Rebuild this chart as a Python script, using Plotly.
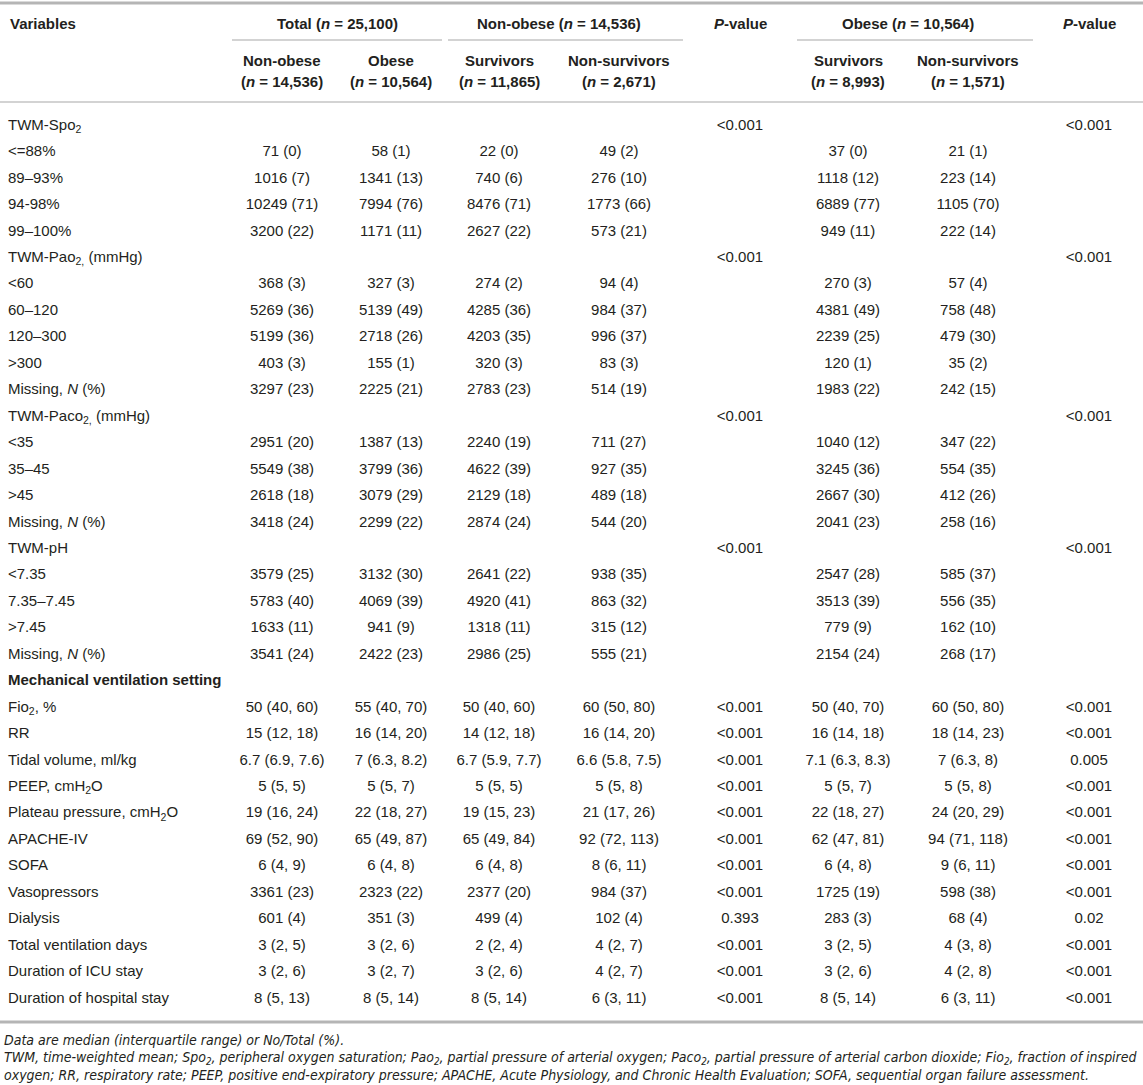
import plotly.graph_objects as go

# row labels (first column)
variables = [
    "TWM-Spo<sub>2</sub>", "&lt;=88%", "89–93%", "94-98%", "99–100%",
    "TWM-Pao<sub>2,</sub> (mmHg)", "&lt;60", "60–120", "120–300", "&gt;300",
    "Missing, <i>N</i> (%)",
    "TWM-Paco<sub>2,</sub> (mmHg)", "&lt;35", "35–45", "&gt;45", "Missing, <i>N</i> (%)",
    "TWM-pH", "&lt;7.35", "7.35–7.45", "&gt;7.45", "Missing, <i>N</i> (%)",
    "<b>Mechanical ventilation setting</b>",
    "Fio<sub>2</sub>, %", "RR", "Tidal volume, ml/kg", "PEEP, cmH<sub>2</sub>O",
    "Plateau pressure, cmH<sub>2</sub>O", "APACHE-IV", "SOFA", "Vasopressors",
    "Dialysis", "Total ventilation days", "Duration of ICU stay",
    "Duration of hospital stay",
]

total_nonobese = [
    "", "71 (0)", "1016 (7)", "10249 (71)", "3200 (22)",
    "", "368 (3)", "5269 (36)", "5199 (36)", "403 (3)", "3297 (23)",
    "", "2951 (20)", "5549 (38)", "2618 (18)", "3418 (24)",
    "", "3579 (25)", "5783 (40)", "1633 (11)", "3541 (24)",
    "", "50 (40, 60)", "15 (12, 18)", "6.7 (6.9, 7.6)", "5 (5, 5)", "19 (16, 24)",
    "69 (52, 90)", "6 (4, 9)", "3361 (23)", "601 (4)", "3 (2, 5)", "3 (2, 6)",
    "8 (5, 13)",
]
total_obese = [
    "", "58 (1)", "1341 (13)", "7994 (76)", "1171 (11)",
    "", "327 (3)", "5139 (49)", "2718 (26)", "155 (1)", "2225 (21)",
    "", "1387 (13)", "3799 (36)", "3079 (29)", "2299 (22)",
    "", "3132 (30)", "4069 (39)", "941 (9)", "2422 (23)",
    "", "55 (40, 70)", "16 (14, 20)", "7 (6.3, 8.2)", "5 (5, 7)", "22 (18, 27)",
    "65 (49, 87)", "6 (4, 8)", "2323 (22)", "351 (3)", "3 (2, 6)", "3 (2, 7)",
    "8 (5, 14)",
]
nonobese_surv = [
    "", "22 (0)", "740 (6)", "8476 (71)", "2627 (22)",
    "", "274 (2)", "4285 (36)", "4203 (35)", "320 (3)", "2783 (23)",
    "", "2240 (19)", "4622 (39)", "2129 (18)", "2874 (24)",
    "", "2641 (22)", "4920 (41)", "1318 (11)", "2986 (25)",
    "", "50 (40, 60)", "14 (12, 18)", "6.7 (5.9, 7.7)", "5 (5, 5)", "19 (15, 23)",
    "65 (49, 84)", "6 (4, 8)", "2377 (20)", "499 (4)", "2 (2, 4)", "3 (2, 6)",
    "8 (5, 14)",
]
nonobese_nonsurv = [
    "", "49 (2)", "276 (10)", "1773 (66)", "573 (21)",
    "", "94 (4)", "984 (37)", "996 (37)", "83 (3)", "514 (19)",
    "", "711 (27)", "927 (35)", "489 (18)", "544 (20)",
    "", "938 (35)", "863 (32)", "315 (12)", "555 (21)",
    "", "60 (50, 80)", "16 (14, 20)", "6.6 (5.8, 7.5)", "5 (5, 8)", "21 (17, 26)",
    "92 (72, 113)", "8 (6, 11)", "984 (37)", "102 (4)", "4 (2, 7)", "4 (2, 7)",
    "6 (3, 11)",
]
p_nonobese = [
    "&lt;0.001", "", "", "", "",
    "&lt;0.001", "", "", "", "", "",
    "&lt;0.001", "", "", "", "",
    "&lt;0.001", "", "", "", "",
    "", "&lt;0.001", "&lt;0.001", "&lt;0.001", "&lt;0.001", "&lt;0.001",
    "&lt;0.001", "&lt;0.001", "&lt;0.001", "0.393", "&lt;0.001", "&lt;0.001",
    "&lt;0.001",
]
obese_surv = [
    "", "37 (0)", "1118 (12)", "6889 (77)", "949 (11)",
    "", "270 (3)", "4381 (49)", "2239 (25)", "120 (1)", "1983 (22)",
    "", "1040 (12)", "3245 (36)", "2667 (30)", "2041 (23)",
    "", "2547 (28)", "3513 (39)", "779 (9)", "2154 (24)",
    "", "50 (40, 70)", "16 (14, 18)", "7.1 (6.3, 8.3)", "5 (5, 7)", "22 (18, 27)",
    "62 (47, 81)", "6 (4, 8)", "1725 (19)", "283 (3)", "3 (2, 5)", "3 (2, 6)",
    "8 (5, 14)",
]
obese_nonsurv = [
    "", "21 (1)", "223 (14)", "1105 (70)", "222 (14)",
    "", "57 (4)", "758 (48)", "479 (30)", "35 (2)", "242 (15)",
    "", "347 (22)", "554 (35)", "412 (26)", "258 (16)",
    "", "585 (37)", "556 (35)", "162 (10)", "268 (17)",
    "", "60 (50, 80)", "18 (14, 23)", "7 (6.3, 8)", "5 (5, 8)", "24 (20, 29)",
    "94 (71, 118)", "9 (6, 11)", "598 (38)", "68 (4)", "4 (3, 8)", "4 (2, 8)",
    "6 (3, 11)",
]
p_obese = [
    "&lt;0.001", "", "", "", "",
    "&lt;0.001", "", "", "", "", "",
    "&lt;0.001", "", "", "", "",
    "&lt;0.001", "", "", "", "",
    "", "&lt;0.001", "&lt;0.001", "0.005", "&lt;0.001", "&lt;0.001",
    "&lt;0.001", "&lt;0.001", "&lt;0.001", "0.02", "&lt;0.001", "&lt;0.001",
    "&lt;0.001",
]

group_titles = ["Total (<i>n</i> = 25,100)", "Non-obese (<i>n</i> = 14,536)",
                "Obese (<i>n</i> = 10,564)"]
sub_titles = ["Non-obese", "Obese", "Survivors", "Non-survivors",
              "Survivors", "Non-survivors"]
sub_counts = ["14,536", "10,564", "11,865", "2,671", "8,993", "1,571"]

footnotes = [
    "Data are median (interquartile range) or No/Total (%).",
    "TWM, time-weighted mean; Spo<sub>2</sub>, peripheral oxygen saturation; "
    "Pao<sub>2</sub>, partial pressure of arterial oxygen; Paco<sub>2</sub>, partial "
    "pressure of arterial carbon dioxide; Fio<sub>2</sub>, fraction of inspired",
    "oxygen; RR, respiratory rate; PEEP, positive end-expiratory pressure; APACHE, "
    "Acute Physiology, and Chronic Health Evaluation; SOFA, sequential organ "
    "failure assessment.",
]

W, H = 1143, 1085
FONT = "Liberation Sans, Arial, sans-serif"
INK = "#231f20"
Y0, DY = 126, 26.45

rows = [Y0 + i * DY for i in range(len(variables))]
columns = [
    (282, total_nonobese), (391, total_obese), (499, nonobese_surv),
    (619, nonobese_nonsurv), (740, p_nonobese), (848, obese_surv),
    (968, obese_nonsurv), (1089, p_obese),
]

fig = go.Figure()

fig.add_trace(go.Scatter(
    x=[8] * len(variables), y=rows, text=variables, mode="text",
    textposition="middle right", textfont=dict(family=FONT, size=15, color=INK),
    hoverinfo="skip",
))
for cx, vals in columns:
    keep = [i for i, v in enumerate(vals) if v]
    fig.add_trace(go.Scatter(
        x=[cx] * len(keep), y=[rows[i] for i in keep], text=[vals[i] for i in keep],
        mode="text", textposition="middle center",
        textfont=dict(family=FONT, size=15, color=INK), hoverinfo="skip",
    ))

bold = dict(family=FONT, size=15, color=INK)
ann = []
ann.append(dict(x=8, y=23, text="<b>Variables</b>", xanchor="left"))
for cx, t in zip([337, 559, 908], group_titles):
    ann.append(dict(x=cx, y=23, text="<b>" + t + "</b>", xanchor="center"))
for cx in [740, 1089]:
    ann.append(dict(x=cx, y=23, text="<b><i>P</i>-value</b>", xanchor="center"))
sub_x = [282, 391, 499, 619, 848, 968]
for cx, t, n in zip(sub_x, sub_titles, sub_counts):
    ann.append(dict(x=cx, y=60, text="<b>" + t + "</b>", xanchor="center"))
    ann.append(dict(x=cx, y=81, text="<b>(<i>n</i> = " + n + ")</b>", xanchor="center"))
for a in ann:
    a.update(xref="x", yref="y", yanchor="middle", showarrow=False, font=bold)

foot_font = dict(family="Liberation Sans Narrow, DejaVu Sans Condensed, Liberation Sans",
                 size=14, color=INK)
for yy, t in zip([1040, 1058, 1075], footnotes):
    ann.append(dict(x=2, y=yy, text="<i>" + t + "</i>", xanchor="left",
                    yanchor="middle", xref="x", yref="y", showarrow=False,
                    font=foot_font))

shapes = [
    dict(type="line", x0=0, x1=W, y0=3, y1=3, line=dict(color="#b5b5b5", width=3)),
    dict(type="line", x0=232, x1=442, y0=40, y1=40, line=dict(color="#c4c4c4", width=1.5)),
    dict(type="line", x0=448, x1=683, y0=40, y1=40, line=dict(color="#c4c4c4", width=1.5)),
    dict(type="line", x0=797, x1=1033, y0=40, y1=40, line=dict(color="#c4c4c4", width=1.5)),
    dict(type="line", x0=0, x1=W, y0=102, y1=102, line=dict(color="#c4c4c4", width=1.5)),
    dict(type="line", x0=0, x1=W, y0=1022, y1=1022, line=dict(color="#b5b5b5", width=3)),
]
for s in shapes:
    s.update(xref="x", yref="y")

fig.update_layout(
    width=W, height=H, margin=dict(l=0, r=0, t=0, b=0),
    paper_bgcolor="white", plot_bgcolor="white", showlegend=False,
    annotations=ann, shapes=shapes,
    xaxis=dict(range=[0, W], visible=False, fixedrange=True),
    yaxis=dict(range=[H, 0], visible=False, fixedrange=True),
)

# drop the default page margin so the figure sits at the window's corner
fig.write_html("out.html", config={"displayModeBar": False},
               post_script="document.body.style.margin = '0';")
